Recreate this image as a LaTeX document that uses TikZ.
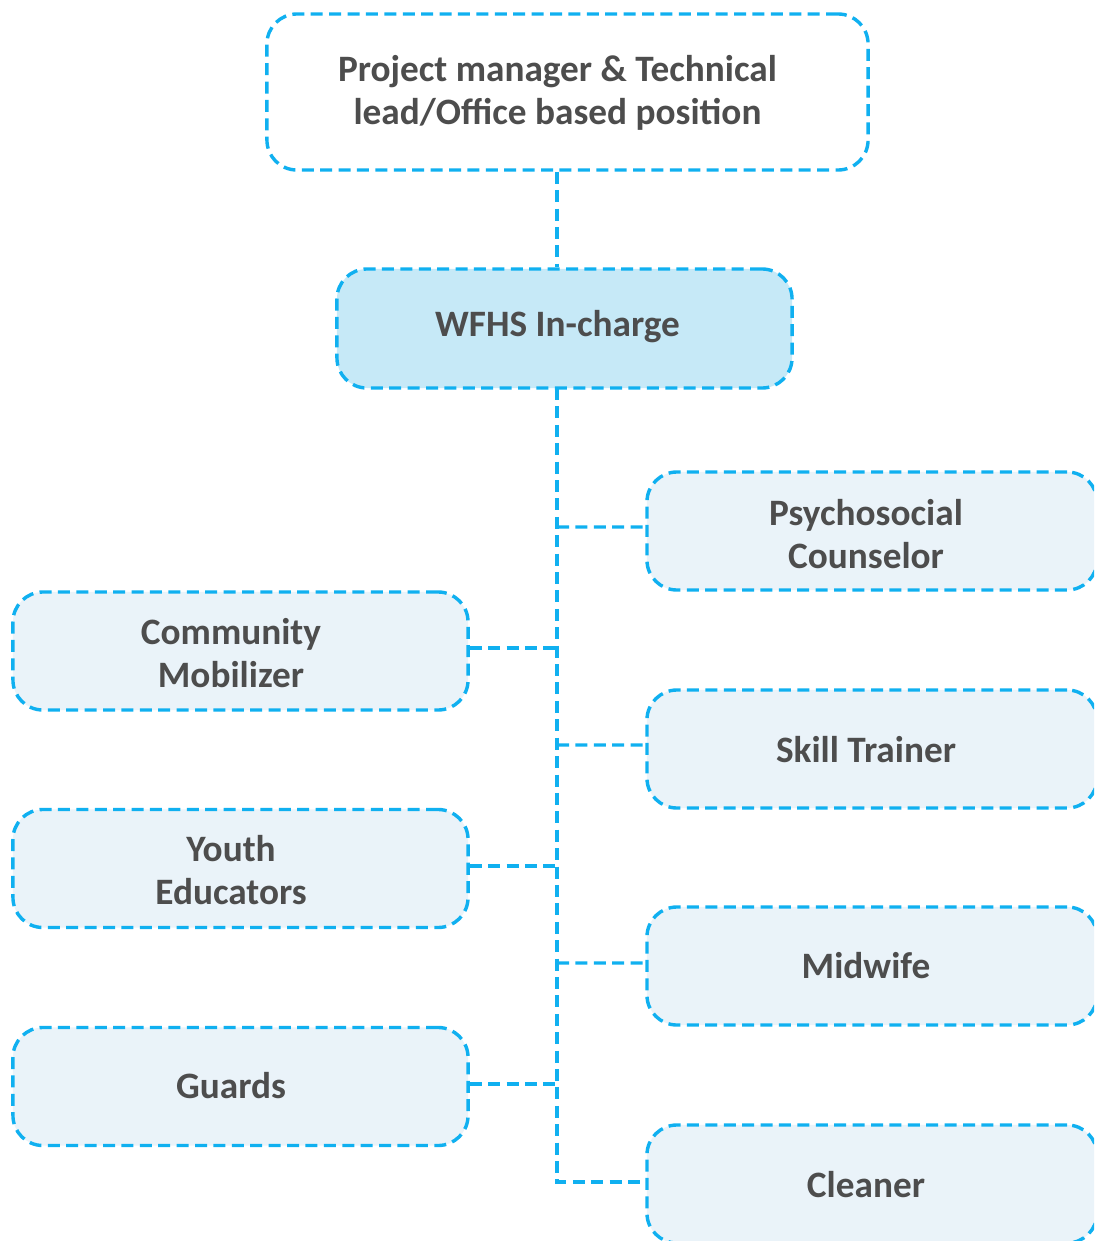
\documentclass[tikz,border=0pt]{standalone}
\usepackage{fontspec}
\setmainfont{Carlito}
\usepackage{tikz}
\usetikzlibrary{calc}
\definecolor{lineblue}{HTML}{10B0F0}
\definecolor{boxfill}{HTML}{EAF3F9}
\definecolor{headfill}{HTML}{C6E9F7}
\definecolor{txtgray}{HTML}{4D4D4D}
\tikzset{
	dashline/.style={draw=lineblue, line width=0.085cm, dash pattern=on 0.3cm off 0.16cm},
	role/.style={dashline, rectangle, rounded corners=0.75cm, fill=boxfill, inner sep=0pt},
	roletext/.style={text=txtgray, align=center, font=\fontsize{26.5}{31}\selectfont\bfseries, inner sep=0pt},
	leftrole/.style={role, minimum width=11.375cm, minimum height=2.95cm},
	rightrole/.style={role, minimum width=11.25cm, minimum height=2.95cm}
}

\begin{document}
\begin{tikzpicture}[x=0.025cm, y=-0.025cm]
		%%%%% START %%%%%
		
		\clip (0, 0) rectangle (1094, 1241);
		
		% boxes
		\node[role, fill=white, minimum width=15.025cm, minimum height=3.9cm] (manager) at (567.5, 92) {};
		\node[role, fill=headfill, minimum width=11.375cm, minimum height=2.975cm] (incharge) at (564.5, 328.5) {};
		
		\node[rightrole] (psycho) at (872, 531) {};
		\node[rightrole] (skill) at (872, 749) {};
		\node[rightrole] (midwife) at (872, 966) {};
		\node[rightrole] (cleaner) at (872, 1184) {};
		
		\node[leftrole] (mobilizer) at (240.5, 651) {};
		\node[leftrole] (youth) at (240.5, 868.5) {};
		\node[leftrole] (guards) at (240.5, 1086.5) {};
		
		% texts
		\node[roletext] (managertext) at (557.5, 93) {Project manager \& Technical\\lead/Office based position};
		\node[roletext] (inchargetext) at (557.5, 327) {WFHS In-charge};
		\node[roletext] (psychotext) at (866, 534) {Psychosocial\\Counselor};
		\node[roletext] (skilltext) at (866, 750) {Skill Trainer};
		\node[roletext] (midwifetext) at (866, 966) {Midwife};
		\node[roletext] (cleanertext) at (866, 1185) {Cleaner};
		\node[roletext] (mobilizertext) at (231, 653) {Community\\Mobilizer};
		\node[roletext] (youthtext) at (231, 870) {Youth\\Educators};
		\node[roletext] (guardstext) at (231, 1086) {Guards};
		
		% connectors
		\coordinate (trunk) at (557, 388);
		
		\draw[dashline] (manager.south -| trunk) -- (incharge.north -| trunk);
		\draw[dashline] (trunk) |- ([yshift=0.05cm]cleaner.west);
		
		\draw[dashline] (trunk |- psycho.west) ++(0, -4) -- ([yshift=0.1cm]psycho.west);
		\draw[dashline] (trunk |- skill.west) ++(0, -4) -- ([yshift=0.1cm]skill.west);
		\draw[dashline] (trunk |- midwife.west) ++(0, -3) -- ([yshift=0.075cm]midwife.west);
		
		\draw[dashline] ([yshift=0.075cm]mobilizer.east) -- ++(89, 0);
		\draw[dashline] ([yshift=0.06cm]youth.east) -- ++(89, 0);
		\draw[dashline] ([yshift=0.06cm]guards.east) -- ++(89, 0);
		
		%%%%% END %%%%%
	\end{tikzpicture}
\end{document}
